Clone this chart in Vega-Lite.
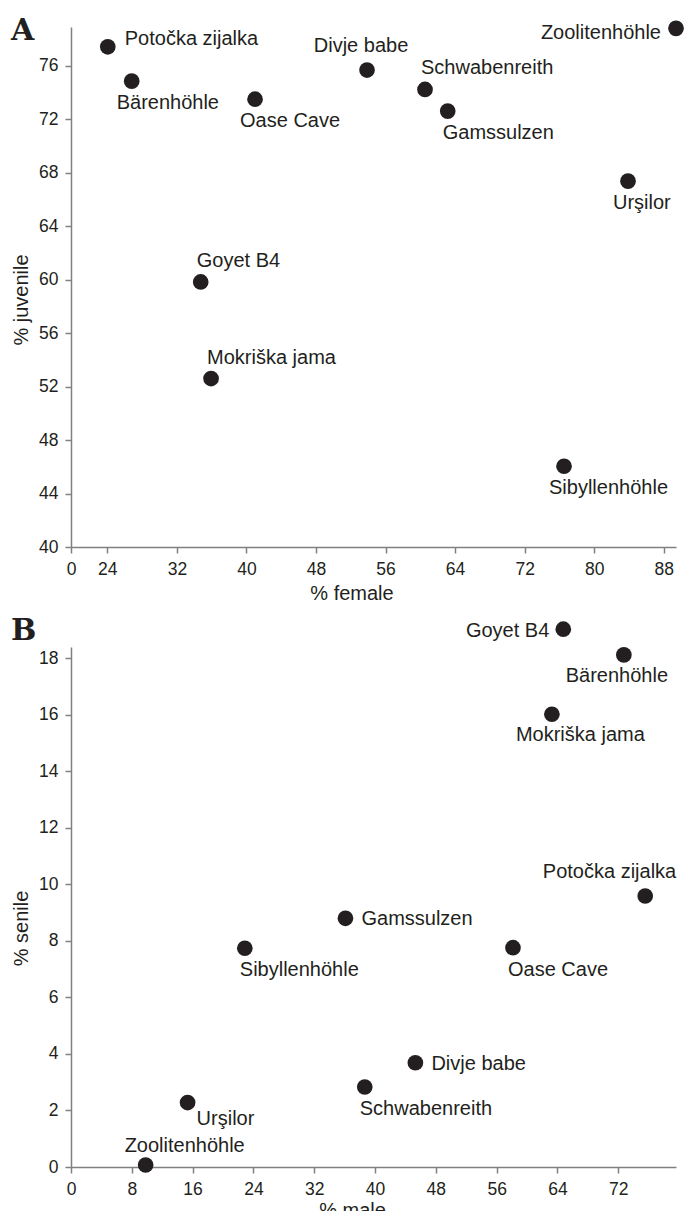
{
  "$schema": "https://vega.github.io/schema/vega-lite/v6.json",
  "padding": {"left": 11, "top": 16, "right": 0, "bottom": 0},
  "spacing": 13,
  "config": {
    "view": {"stroke": null},
    "axis": {"grid": false, "domainColor": "#808080", "tickColor": "#808080", "domainWidth": 1.5, "tickWidth": 1.5, "tickSize": 6,
      "labelFont": "Liberation Sans", "labelFontSize": 17.5, "labelColor": "#231f20", "labelPadding": 7, "labelFlush": false, "labelOverlap": false,
      "titleFont": "Liberation Sans", "titleFontSize": 20, "titleFontWeight": "normal", "titleColor": "#231f20"},
    "text": {"font": "Liberation Sans", "fontSize": 20, "color": "#231f20", "baseline": "alphabetic"},
    "circle": {"size": 246, "color": "#231f20", "opacity": 1},
    "title": {"font": "DejaVu Serif", "fontSize": 30, "fontWeight": "bold", "color": "#231f20", "anchor": "start", "frame": "bounds", "baseline": "alphabetic"}
  },
  "vconcat": [
    {
      "title": {"text": "A", "offset": -26},
      "width": 605, "height": 520,
      "data": {"values": [
        {"site": "Potočka zijalka", "female": 24.05, "juvenile": 77.42, "pos": "NE"},
        {"site": "Bärenhöhle", "female": 26.8, "juvenile": 74.85, "pos": "SW"},
        {"site": "Oase Cave", "female": 40.99, "juvenile": 73.5, "pos": "SW"},
        {"site": "Divje babe", "female": 53.87, "juvenile": 75.68, "pos": "NC"},
        {"site": "Schwabenreith", "female": 60.54, "juvenile": 74.23, "pos": "N"},
        {"site": "Gamssulzen", "female": 63.15, "juvenile": 72.61, "pos": "S"},
        {"site": "Zoolitenhöhle", "female": 89.41, "juvenile": 78.8, "pos": "W"},
        {"site": "Urşilor", "female": 83.89, "juvenile": 67.37, "pos": "SW"},
        {"site": "Goyet B4", "female": 34.74, "juvenile": 59.83, "pos": "N"},
        {"site": "Mokriška jama", "female": 35.93, "juvenile": 52.6, "pos": "N"},
        {"site": "Sibyllenhöhle", "female": 76.53, "juvenile": 46.04, "pos": "SW"}
      ]},
      "encoding": {
        "x": {"field": "female", "type": "quantitative",
          "scale": {"domain": [19.82, 89.41], "nice": false, "zero": false},
          "axis": {"title": "% female", "values": [19.82, 24, 32, 40, 48, 56, 64, 72, 80, 88],
            "labelExpr": "datum.value < 20 ? '0' : datum.label",
            "titleX": 280.5, "titleY": 36, "titleBaseline": "top", "titleAlign": "center"}},
        "y": {"field": "juvenile", "type": "quantitative",
          "scale": {"domain": [40, 78.9], "nice": false, "zero": false},
          "axis": {"title": "% juvenile", "values": [40, 44, 48, 52, 56, 60, 64, 68, 72, 76],
            "titleX": -44, "titleY": 272.5, "titleBaseline": "alphabetic", "titleAlign": "center", "titleAngle": 270}}
      },
      "layer": [
        {"mark": {"type": "circle"}},
        {"transform": [{"filter": "datum.pos === 'NE'"}], "mark": {"type": "text", "align": "left", "dx": 17, "dy": -2}, "encoding": {"text": {"field": "site"}}},
        {"transform": [{"filter": "datum.pos === 'SW'"}], "mark": {"type": "text", "align": "left", "dx": -15, "dy": 28}, "encoding": {"text": {"field": "site"}}},
        {"transform": [{"filter": "datum.pos === 'NC'"}], "mark": {"type": "text", "align": "center", "dx": -6, "dy": -18}, "encoding": {"text": {"field": "site"}}},
        {"transform": [{"filter": "datum.pos === 'N'"}], "mark": {"type": "text", "align": "left", "dx": -4, "dy": -15}, "encoding": {"text": {"field": "site"}}},
        {"transform": [{"filter": "datum.pos === 'S'"}], "mark": {"type": "text", "align": "left", "dx": -5, "dy": 28}, "encoding": {"text": {"field": "site"}}},
        {"transform": [{"filter": "datum.pos === 'W'"}], "mark": {"type": "text", "align": "right", "dx": -15, "dy": 11}, "encoding": {"text": {"field": "site"}}}
      ]
    },
    {
      "title": {"text": "B", "offset": -25},
      "width": 605, "height": 520,
      "data": {"values": [
        {"site": "Goyet B4", "male": 64.77, "senile": 19.03, "pos": "W"},
        {"site": "Bärenhöhle", "male": 72.74, "senile": 18.12, "pos": "SC"},
        {"site": "Mokriška jama", "male": 63.27, "senile": 16.02, "pos": "SSW"},
        {"site": "Potočka zijalka", "male": 75.55, "senile": 9.59, "pos": "NW"},
        {"site": "Gamssulzen", "male": 36.11, "senile": 8.8, "pos": "E"},
        {"site": "Sibyllenhöhle", "male": 22.87, "senile": 7.74, "pos": "S"},
        {"site": "Oase Cave", "male": 58.15, "senile": 7.76, "pos": "S"},
        {"site": "Divje babe", "male": 45.31, "senile": 3.69, "pos": "E"},
        {"site": "Schwabenreith", "male": 38.65, "senile": 2.83, "pos": "S"},
        {"site": "Urşilor", "male": 15.34, "senile": 2.28, "pos": "SE"},
        {"site": "Zoolitenhöhle", "male": 9.82, "senile": 0.07, "pos": "NNW"}
      ]},
      "encoding": {
        "x": {"field": "male", "type": "quantitative",
          "scale": {"domain": [0, 79.6], "nice": false, "zero": false},
          "axis": {"title": "% male", "values": [0, 8, 16, 24, 32, 40, 48, 56, 64, 72],
            "titleX": 281, "titleY": 33, "titleBaseline": "top", "titleAlign": "center"}},
        "y": {"field": "senile", "type": "quantitative",
          "scale": {"domain": [0, 18.4], "nice": false, "zero": false},
          "axis": {"title": "% senile", "values": [0, 2, 4, 6, 8, 10, 12, 14, 16, 18],
            "titleX": -44, "titleY": 281, "titleBaseline": "alphabetic", "titleAlign": "center", "titleAngle": 270}}
      },
      "layer": [
        {"mark": {"type": "circle"}},
        {"transform": [{"filter": "datum.pos === 'W'"}], "mark": {"type": "text", "align": "right", "dx": -14, "dy": 8}, "encoding": {"text": {"field": "site"}}},
        {"transform": [{"filter": "datum.pos === 'SC'"}], "mark": {"type": "text", "align": "center", "dx": -7, "dy": 27}, "encoding": {"text": {"field": "site"}}},
        {"transform": [{"filter": "datum.pos === 'SSW'"}], "mark": {"type": "text", "align": "left", "dx": -36, "dy": 27}, "encoding": {"text": {"field": "site"}}},
        {"transform": [{"filter": "datum.pos === 'NW'"}], "mark": {"type": "text", "align": "right", "dx": 31, "dy": -18}, "encoding": {"text": {"field": "site"}}},
        {"transform": [{"filter": "datum.pos === 'E'"}], "mark": {"type": "text", "align": "left", "dx": 16, "dy": 7}, "encoding": {"text": {"field": "site"}}},
        {"transform": [{"filter": "datum.pos === 'S'"}], "mark": {"type": "text", "align": "left", "dx": -5, "dy": 28}, "encoding": {"text": {"field": "site"}}},
        {"transform": [{"filter": "datum.pos === 'SE'"}], "mark": {"type": "text", "align": "left", "dx": 9, "dy": 22}, "encoding": {"text": {"field": "site"}}},
        {"transform": [{"filter": "datum.pos === 'NNW'"}], "mark": {"type": "text", "align": "left", "dx": -21, "dy": -13}, "encoding": {"text": {"field": "site"}}}
      ]
    }
  ]
}
